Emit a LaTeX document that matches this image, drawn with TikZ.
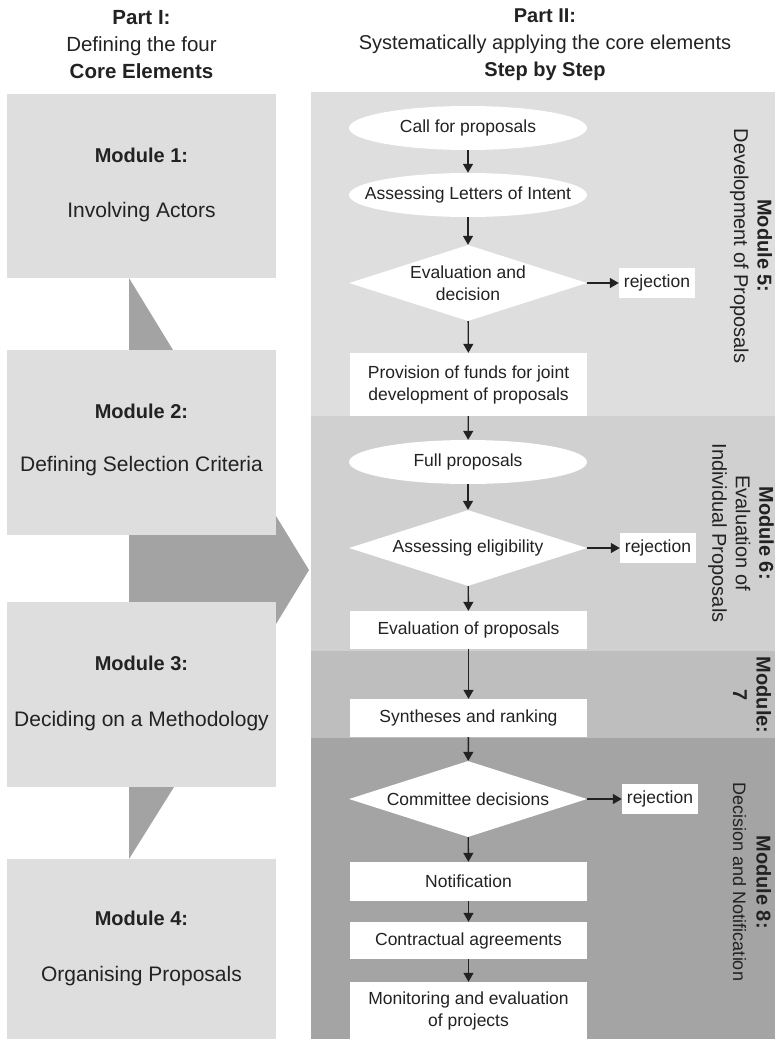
\documentclass[tikz,border=0pt]{standalone}
\usepackage{fontspec}
\setmainfont{Liberation Sans}
\usetikzlibrary{shapes.geometric,arrows.meta}
\definecolor{modgray}{HTML}{DEDEDE}
\definecolor{arrgray}{HTML}{A3A3A3}
\definecolor{bandsix}{HTML}{D0D0D0}
\definecolor{bandseven}{HTML}{BDBEBD}
\definecolor{bandeight}{HTML}{A4A4A4}
\definecolor{ink}{HTML}{222222}
\begin{document}
\begin{tikzpicture}[x=1pt,y=-1pt,>={Triangle[length=9pt,width=10pt]},
    flowtext/.style={text=ink,font=\fontsize{17.5}{22}\selectfont,align=center,inner sep=0pt},
    oval/.style={flowtext,minimum width=238pt,minimum height=44pt,
        path picture={\fill[white] (path picture bounding box.center) ellipse (119pt and 22pt);}},
    decide/.style={flowtext,diamond,fill=white,shape aspect=3.1,minimum width=238pt,minimum height=76pt},
    stepbox/.style={flowtext,rectangle,fill=white,minimum width=237pt},
    reject/.style={flowtext,rectangle,fill=white,minimum width=76pt,minimum height=30pt},
    modhead/.style={text=ink,font=\bfseries\fontsize{20}{24}\selectfont},
    modtext/.style={text=ink,font=\fontsize{21}{25}\selectfont},
    sidelabel/.style={text=ink,rotate=-90,align=center,font=\fontsize{20}{23.5}\selectfont},
    flow/.style={->,draw=ink,line width=1.4pt}]
        \useasboundingbox (0,0) rectangle (775,1039);
        %
        % headers
        \node[text=ink,align=center,font=\fontsize{20.5}{27}\selectfont] (part1) at (141.5,45)
            {\textbf{Part I:}\\Defining the four\\\textbf{Core Elements}};
        \node[text=ink,align=center,font=\fontsize{20}{27}\selectfont] (part2) at (545,45)
            {\textbf{Part II:}\\Systematically applying the core elements\\\textbf{Step by Step}};
        %
        % part I: arrows behind the module boxes
        \fill[arrgray] (129,278) -- (129,350) -- (173,350) -- cycle;
        \fill[arrgray] (129,535) -- (240,535) -- (240,457) -- (309,570) -- (240,683) -- (240,602) -- (129,602) -- cycle;
        \fill[arrgray] (129,787) -- (174,787) -- (129,859) -- cycle;
        %
        \fill[modgray] (7,94) rectangle (276,278);
        \fill[modgray] (7,350) rectangle (276,535);
        \fill[modgray] (7,602) rectangle (276,787);
        \fill[modgray] (7,859) rectangle (276,1039);
        %
        \node[modhead] (m1head) at (141.5,155) {Module 1:};
        \node[modtext] (m1text) at (141.5,212) {Involving Actors};
        \node[modhead] (m2head) at (141.5,411) {Module 2:};
        \node[modtext] (m2text) at (141.5,466) {Defining Selection Criteria};
        \node[modhead] (m3head) at (141.5,663) {Module 3:};
        \node[modtext] (m3text) at (141.5,721) {Deciding on a Methodology};
        \node[modhead] (m4head) at (141.5,918) {Module 4:};
        \node[modtext] (m4text) at (141.5,976) {Organising Proposals};
        %
        % part II: bands
        \fill[modgray] (311,92) rectangle (775,416);
        \fill[bandsix] (311,416) rectangle (775,651);
        \fill[bandseven] (311,651) rectangle (775,738);
        \fill[bandeight] (311,738) rectangle (775,1039);
        %
        \node[sidelabel] (m5label) at (751,246) {\textbf{Module 5:}\\Development of Proposals};
        \node[sidelabel] (m6label) at (741,533) {\textbf{Module 6:}\\Evaluation of\\Individual Proposals};
        \node[sidelabel] (m7label) at (752,695) {\textbf{Module:}\\\textbf{7}};
        \node[sidelabel] (m8label) at (752,882) {\textbf{Module 8:}\\{\fontsize{18}{23.5}\selectfont Decision and Notification}};
        %
        % flow
        \node[oval] (call) at (468,128) {Call for proposals};
        \node[oval] (letters) at (468,195) {Assessing Letters of Intent};
        \node[decide] (evaldec) at (468,283) {Evaluation and\\decision};
        \node[reject] (rej1) at (657,283) {rejection};
        \node[stepbox,minimum height=63pt] (funds) at (468.5,384.5) {Provision of funds for joint\\development of proposals};
        \node[oval] (full) at (468,462) {Full proposals};
        \node[decide] (elig) at (468,548) {Assessing eligibility};
        \node[reject] (rej2) at (658,548) {rejection};
        \node[stepbox,minimum height=38pt] (evalprop) at (468.5,630) {Evaluation of proposals};
        \node[stepbox,minimum height=38pt] (synth) at (468.5,718) {Syntheses and ranking};
        \node[decide] (committee) at (468,799) {Committee decisions};
        \node[reject] (rej3) at (660,799) {rejection};
        \node[stepbox,minimum height=39pt] (notif) at (468.5,881.5) {Notification};
        \node[stepbox,minimum height=37pt] (contract) at (468.5,940.5) {Contractual agreements};
        \node[stepbox,minimum height=57pt] (monitor) at (468.5,1010.5) {Monitoring and evaluation\\of projects};
        %
        \draw[flow] (call) -- (letters);
        \draw[flow] (letters) -- (evaldec);
        \draw[flow] (evaldec) -- (rej1);
        \draw[flow] (evaldec) -- (funds);
        \draw[flow] (funds) -- (full);
        \draw[flow] (full) -- (elig);
        \draw[flow] (elig) -- (rej2);
        \draw[flow] (elig) -- (evalprop);
        \draw[flow] (evalprop) -- (synth);
        \draw[flow] (synth) -- (committee);
        \draw[flow] (committee) -- (rej3);
        \draw[flow] (committee) -- (notif);
        \draw[flow] (notif) -- (contract);
        \draw[flow] (contract) -- (monitor);
\end{tikzpicture}
\end{document}
